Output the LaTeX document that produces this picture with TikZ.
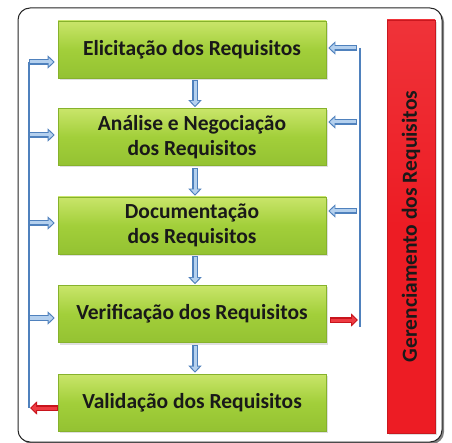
\documentclass[tikz,border=0pt]{standalone}
\usepackage{fontspec}
\setmainfont{Carlito}
\usetikzlibrary{arrows.meta,shadows,calc}
\definecolor{grtop}{HTML}{C9E56A}
\definecolor{grmid}{HTML}{A2CF3A}
\definecolor{grbot}{HTML}{94C232}
\definecolor{grline}{HTML}{86B22C}
\definecolor{redbar}{HTML}{ED1C24}
\definecolor{redtop}{HTML}{EF3339}
\definecolor{lineblue}{HTML}{4F81BD}
\definecolor{lightblue}{HTML}{B4D0EE}
\definecolor{arrred}{HTML}{C8141C}
\definecolor{arrredl}{HTML}{EE3B42}
\tikzset{
  stage/.style={minimum width=268pt, minimum height=57pt, inner sep=0pt,
    top color=grtop, bottom color=grbot, middle color=grmid, draw=grline, line width=0.6pt,
    drop shadow={opacity=0.25, shadow xshift=1.5pt, shadow yshift=-2pt},
    align=center, font=\fontsize{21.5}{24.5}\selectfont\bfseries, text=black!90},
  blk/.style={line width=5.5pt, draw=lineblue, -{Triangle[width=13pt,length=7pt]},
    postaction={draw=lightblue, line width=3pt, shorten >=1.6pt, shorten <=1pt,
      -{Triangle[width=8.5pt,length=4.6pt]}}},
  rblk/.style={line width=5.5pt, draw=arrred, -{Triangle[width=13pt,length=7pt]},
    postaction={draw=arrredl, line width=3pt, shorten >=1.6pt, shorten <=1pt,
      -{Triangle[width=8.5pt,length=4.6pt]}}},
  bline/.style={draw=lineblue, line width=2pt},
}
\begin{document}
\begin{tikzpicture}[x=1pt,y=-1pt]
\useasboundingbox (0,0) rectangle (452,443);
\node (frame) [draw=black!85, line width=1pt, rounded corners=12pt, fill=white,
  minimum width=424pt, minimum height=434pt,
  drop shadow={opacity=0.7, shadow xshift=2pt, shadow yshift=-2pt, fill=black!70}] at (230,225) {};
\node (b1) [stage] at (192,49.5) {Elicitação dos Requisitos};
\node (b2) [stage] at (192,137) {Análise e Negociação\\dos Requisitos};
\node (b3) [stage] at (192,225.5) {Documentação\\dos Requisitos};
\node (b4) [stage] at (192,314) {Verificação dos Requisitos};
\node (b5) [stage] at (192,402.5) {Validação dos Requisitos};
\node (gr) [minimum width=48pt, minimum height=413pt, inner sep=0pt,
  top color=redtop, bottom color=redbar, middle color=redbar, draw=redbar!85!black, line width=0.5pt,
  drop shadow={opacity=0.25, shadow xshift=1.5pt, shadow yshift=-2pt}] at (411,226.5) {};
\node [rotate=90, font=\fontsize{21.5}{24}\selectfont\bfseries, text=black!90] at (gr.center)
  {Gerenciamento dos Requisitos};
% down arrows
\foreach \a/\b in {b1/b2,b2/b3,b3/b4,b4/b5}
  \draw[blk] ($(\a.south)+(3,2)$) -- ($(\b.north)+(3,-1)$);
% left feedback line
\coordinate (lt) at (29,62);
\coordinate (lb) at (29,408);
\draw[bline] (lt) -- (lb);
\draw[blk] (29,62) -- ($(b1.west)+(-3,12.5)$);
\draw[blk] (29,135) -- ($(b2.west)+(-3,-2)$);
\draw[blk] (29,223) -- ($(b3.west)+(-3,-2.5)$);
\draw[blk] (29,318) -- ($(b4.west)+(-3,4)$);
\draw[rblk] ($(b5.west)+(0,5.5)$) -- (30,408);
% right line
\coordinate (rt) at (360,48);
\coordinate (rb) at (360,327);
\draw[bline] (rt) -- (rb);
\draw[blk] (357,48) -- ($(b1.east)+(2,-1.5)$);
\draw[blk] (357,122) -- ($(b2.east)+(2,-15)$);
\draw[blk] (357,211) -- ($(b3.east)+(2,-14.5)$);
\draw[rblk] ($(b4.east)+(4,6)$) -- (358,320);
\end{tikzpicture}
\end{document}
